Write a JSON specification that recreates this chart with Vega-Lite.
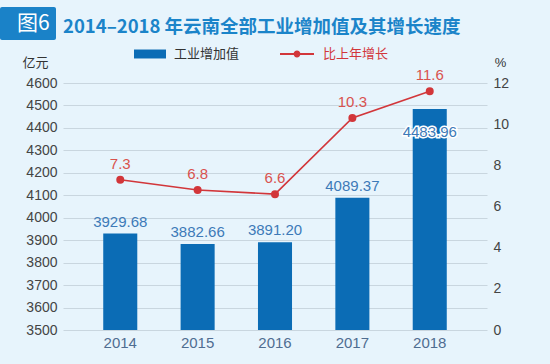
{
  "$schema": "https://vega.github.io/schema/vega-lite/v6.json",
  "width": 424,
  "height": 247,
  "autosize": {"type": "none"},
  "padding": {"left": 63, "top": 83, "right": 63, "bottom": 34},
  "background": "#e7f4fc",
  "config": {"view": {"stroke": null}, "font": "Liberation Sans"},
  "title": {
    "text": "2014–2018 年云南全部工业增加值及其增长速度",
    "anchor": "start",
    "frame": "group",
    "font": "Noto Sans CJK SC",
    "fontSize": 18.5,
    "fontWeight": "bold",
    "color": "#1b84c9",
    "offset": -29
  },
  "data": {
    "values": [
      {"year": 2014, "value": 3929.68, "growth": 7.3},
      {"year": 2015, "value": 3882.66, "growth": 6.8},
      {"year": 2016, "value": 3891.20, "growth": 6.6},
      {"year": 2017, "value": 4089.37, "growth": 10.3},
      {"year": 2018, "value": 4483.96, "growth": 11.6}
    ]
  },
  "layer": [
    {
      "encoding": {
        "x": {
          "field": "year", "type": "ordinal",
          "scale": {"paddingInner": 0.56, "paddingOuter": 0.52},
          "axis": {"title": null, "labelAngle": 0, "ticks": false, "domain": false, "labelColor": "#4f6d91", "labelFontSize": 15, "labelPadding": 5, "grid": false}
        },
        "y": {
          "field": "value", "type": "quantitative",
          "scale": {"domain": [3500, 4600], "zero": false, "nice": false},
          "axis": {
            "values": [3500, 3600, 3700, 3800, 3900, 4000, 4100, 4200, 4300, 4400, 4500, 4600],
            "format": "d",
            "title": "亿元", "titleAngle": 0, "titleX": -28, "titleY": -21, "titleAlign": "center", "titleBaseline": "middle",
            "titleFont": "Noto Sans CJK SC", "titleFontSize": 13, "titleFontWeight": "normal", "titleColor": "#333333",
            "labelColor": "#444444", "labelFontSize": 14, "labelPadding": 6,
            "ticks": false, "domain": false, "grid": true, "gridColor": "#c9d6df"
          }
        }
      },
      "layer": [
        {
          "mark": {"type": "bar", "clip": true},
          "encoding": {
            "fill": {
              "datum": "工业增加值",
              "scale": {"range": ["#0b6cb5"]},
              "legend": {
                "orient": "none", "legendX": 70, "legendY": -46, "title": null,
                "symbolType": "M-1,-0.28H1V0.28H-1Z", "symbolSize": 1024,
                "labelFont": "Noto Sans CJK SC", "labelFontSize": 13, "labelColor": "#333333", "labelOffset": 7, "padding": 0
              }
            }
          }
        },
        {
          "transform": [{"filter": "datum.year != 2018"}],
          "mark": {"type": "text", "dy": -12, "baseline": "middle", "fontSize": 15, "color": "#3d7ab8"},
          "encoding": {"text": {"field": "value", "format": ".2f"}}
        },
        {
          "transform": [{"filter": "datum.year == 2018"}],
          "mark": {"type": "text", "dy": 23, "baseline": "middle", "fontSize": 15, "fill": "white", "stroke": "white", "strokeWidth": 3},
          "encoding": {"text": {"field": "value", "format": ".2f"}}
        },
        {
          "transform": [{"filter": "datum.year == 2018"}],
          "mark": {"type": "text", "dy": 23, "baseline": "middle", "fontSize": 15, "color": "#3d7ab8"},
          "encoding": {"text": {"field": "value", "format": ".2f"}}
        }
      ]
    },
    {
      "encoding": {
        "x": {
          "field": "year", "type": "ordinal",
          "scale": {"paddingInner": 0.56, "paddingOuter": 0.52},
          "axis": {"title": null, "labelAngle": 0, "ticks": false, "domain": false, "labelColor": "#4f6d91", "labelFontSize": 15, "labelPadding": 5, "grid": false}
        },
        "y": {
          "field": "growth", "type": "quantitative",
          "scale": {"domain": [0, 12], "nice": false},
          "axis": {
            "orient": "right",
            "values": [0, 2, 4, 6, 8, 10, 12],
            "title": "%", "titleAngle": 0, "titleX": 13, "titleY": -21, "titleAlign": "center", "titleBaseline": "middle",
            "titleFontSize": 13, "titleFontWeight": "normal", "titleColor": "#333333",
            "labelColor": "#444444", "labelFontSize": 14, "labelPadding": 6,
            "ticks": false, "domain": false, "grid": false
          }
        }
      },
      "layer": [
        {
          "mark": {"type": "line", "strokeWidth": 1.6, "point": {"filled": true, "size": 36, "fill": "#d2363a"}},
          "encoding": {
            "stroke": {
              "datum": "比上年增长",
              "scale": {"range": ["#d2363a"]},
              "legend": {
                "orient": "none", "legendX": 217, "legendY": -46, "title": null,
                "symbolType": "M-1,-0.06H1V0.06H-1Z M0.2,0A0.2,0.2,0,1,1,-0.2,0A0.2,0.2,0,1,1,0.2,0Z",
                "symbolSize": 1156, "symbolStrokeWidth": 0,
                "labelFont": "Noto Sans CJK SC", "labelFontSize": 13, "labelColor": "#d2363a", "labelOffset": 9, "padding": 0,
                "encode": {"symbols": {"update": {"fill": {"value": "#d2363a"}, "stroke": {"value": "transparent"}}}}
              }
            }
          }
        },
        {
          "mark": {"type": "text", "dy": -16, "baseline": "middle", "fontSize": 15, "color": "#d9524e"},
          "encoding": {"text": {"field": "growth", "format": ".1f"}}
        },
        {
          "mark": {"type": "point", "opacity": 0},
          "encoding": {
            "shape": {
              "datum": "图6",
              "legend": {
                "orient": "none", "legendX": -63, "legendY": -76, "title": null,
                "symbolSize": 0, "labelOffset": -10, "padding": 6,
                "fillColor": "#1a82c8", "cornerRadius": 2,
                "labelFont": "Noto Sans CJK SC", "labelFontSize": 21, "labelColor": "white"
              }
            }
          }
        }
      ]
    }
  ],
  "resolve": {"scale": {"y": "independent"}}
}
